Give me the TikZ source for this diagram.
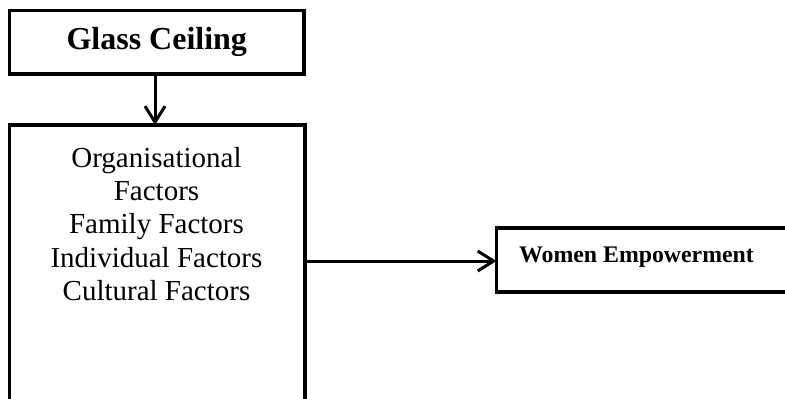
\documentclass[tikz,border=0pt]{standalone}
\usepackage{fontspec}
\setmainfont{Liberation Serif}
\usetikzlibrary{arrows.meta}
\begin{document}
\begin{tikzpicture}[x=1pt,y=-1pt,
  boxs/.style={draw=black,line width=3.6pt,rectangle,inner sep=0pt,outer sep=0pt},
  arr/.style={line width=3pt,-{Straight Barb[length=16pt,width=20pt,line width=3pt]}}]
\useasboundingbox (0,0) rectangle (785,399);
\clip (0,0) rectangle (785,399);
\node[boxs,minimum width=294.5pt,minimum height=63.5pt] (gc) at (156.75,42.25) {};
\node[font=\fontsize{32}{36}\selectfont\bfseries] (gct) at (gc.center) {Glass Ceiling};
\node[boxs,minimum width=295.5pt,minimum height=276.5pt] (main) at (157.25,263.25) {};
\node[font=\fontsize{29}{33.25}\selectfont,align=center,inner sep=0pt] (maint) at (156.5,224) {Organisational\\Factors\\Family Factors\\Individual Factors\\Cultural Factors};
\node[boxs,minimum width=303.5pt,minimum height=64pt] (we) at (648.25,259.7) {};
\node[font=\fontsize{23.8}{28}\selectfont\bfseries,anchor=base west,inner sep=0pt] (wet) at (519,262) {Women Empowerment};
\draw[arr] (gc.south -| 155,0) -- (main.north -| 155,0);
\draw[arr] (main.east |- 0,261) -- (we.west |- 0,261);
\end{tikzpicture}
\end{document}
